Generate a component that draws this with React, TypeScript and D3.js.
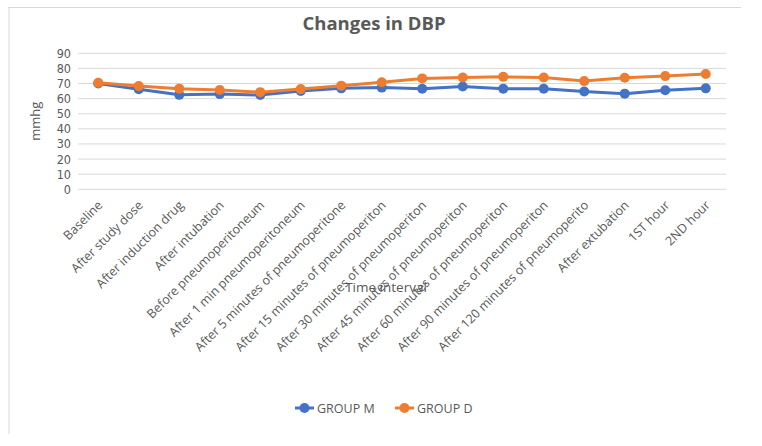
import * as d3 from "d3";

const CATEGORIES = [
  "Baseline",
  "After study dose",
  "After induction drug",
  "After intubation",
  "Before pneumoperitoneum",
  "After 1 min pneumoperitoneum",
  "After 5 minutes of pneumoperitone",
  "After 15 minutes of pneumoperiton",
  "After 30 minutes of pneumoperiton",
  "After 45 minutes of pneumoperiton",
  "After 60 minutes of pneumoperiton",
  "After 90 minutes of pneumoperiton",
  "After 120 minutes of pneumoperito",
  "After extubation",
  "1ST hour",
  "2ND hour",
];

const GROUP_M = [70, 66.2, 62.5, 63, 62.4, 65, 66.8, 67.3, 66.5, 68, 66.5, 66.5, 64.7, 63.3, 65.5, 66.8];
const GROUP_D = [70.5, 68.3, 66.6, 65.7, 64.3, 66.3, 68.6, 70.8, 73.4, 74, 74.4, 74, 71.6, 73.8, 74.9, 76.3];

const Y_TICKS = [0, 10, 20, 30, 40, 50, 60, 70, 80, 90];

const SERIES = [
  { name: "GROUP M", values: GROUP_M, color: "#4472C4" },
  { name: "GROUP D", values: GROUP_D, color: "#ED7D31" },
];

const W = 762;
const H = 446;
const PLOT = { left: 78, right: 726, top: 53.3, bottom: 189.3 };
const TEXT = "#595959";
const FONT = "'Open Sans', 'Noto Sans', sans-serif";
const NARROW = "'Liberation Sans Narrow', 'DejaVu Sans Condensed', 'Liberation Sans', sans-serif";

export default function App() {
  const x = d3
    .scaleBand<string>()
    .domain(CATEGORIES)
    .range([PLOT.left, PLOT.right]);
  const y = d3.scaleLinear().domain([0, 90]).range([PLOT.bottom, PLOT.top]);
  const cx = (c: string) => (x(c) ?? 0) + x.bandwidth() / 2;

  const line = d3
    .line<number>()
    .x((_, i) => cx(CATEGORIES[i]))
    .y((v) => y(v));

  return (
    <div style={{ position: "fixed", left: 0, top: 0 }}>
      <svg width={W} height={H} style={{ display: "block", background: "#fff" }}>
        {/* partial frame */}
        <line x1={8} x2={741} y1={7.5} y2={7.5} stroke="#d9d9d9" strokeWidth={1} />
        <line x1={9} x2={9} y1={7} y2={434} stroke="#d9d9d9" strokeWidth={1} />

        <text
          x={374}
          y={30}
          textAnchor="middle"
          fontFamily={FONT}
          fontWeight="bold"
          fontSize={18.5}
          fill={TEXT}
        >
          Changes in DBP
        </text>

        {Y_TICKS.map((t) => (
          <g key={t}>
            <line
              x1={PLOT.left}
              x2={PLOT.right}
              y1={y(t)}
              y2={y(t)}
              stroke="#d9d9d9"
              strokeWidth={1}
            />
            <text
              x={71}
              y={y(t)}
              dy="0.36em"
              textAnchor="end"
              fontFamily={NARROW}
              fontSize={12.5}
              fill={TEXT}
            >
              {t}
            </text>
          </g>
        ))}

        <text
          transform={`translate(40, ${(PLOT.top + PLOT.bottom) / 2}) rotate(-90)`}
          textAnchor="middle"
          fontFamily={FONT}
          fontSize={13}
          fill={TEXT}
        >
          mmhg
        </text>

        {CATEGORIES.map((c) => (
          <text
            key={c}
            transform={`translate(${cx(c) + 5}, 206) rotate(-45)`}
            textAnchor="end"
            fontFamily={FONT}
            fontSize={12.5}
            fill={TEXT}
          >
            {c}
          </text>
        ))}

        <text
          x={386}
          y={292}
          textAnchor="middle"
          fontFamily={FONT}
          fontSize={13.5}
          fill={TEXT}
        >
          Time interval
        </text>

        {SERIES.map((s) => (
          <g key={s.name}>
            <path
              d={line(s.values) ?? ""}
              fill="none"
              stroke={s.color}
              strokeWidth={3}
              strokeLinejoin="round"
            />
            {s.values.map((v, i) => (
              <circle key={i} cx={cx(CATEGORIES[i])} cy={y(v)} r={5} fill={s.color} />
            ))}
          </g>
        ))}

        {SERIES.map((s, i) => {
          const lx = 295 + i * 100;
          return (
            <g key={s.name} transform={`translate(${lx}, 408)`}>
              <line x1={0} x2={19} y1={0} y2={0} stroke={s.color} strokeWidth={3} />
              <circle cx={9.5} cy={0} r={5} fill={s.color} />
              <text
                x={22}
                y={0}
                dy="0.36em"
                fontFamily={FONT}
                fontSize={12.5}
                fill={TEXT}
              >
                {s.name}
              </text>
            </g>
          );
        })}
      </svg>
    </div>
  );
}
